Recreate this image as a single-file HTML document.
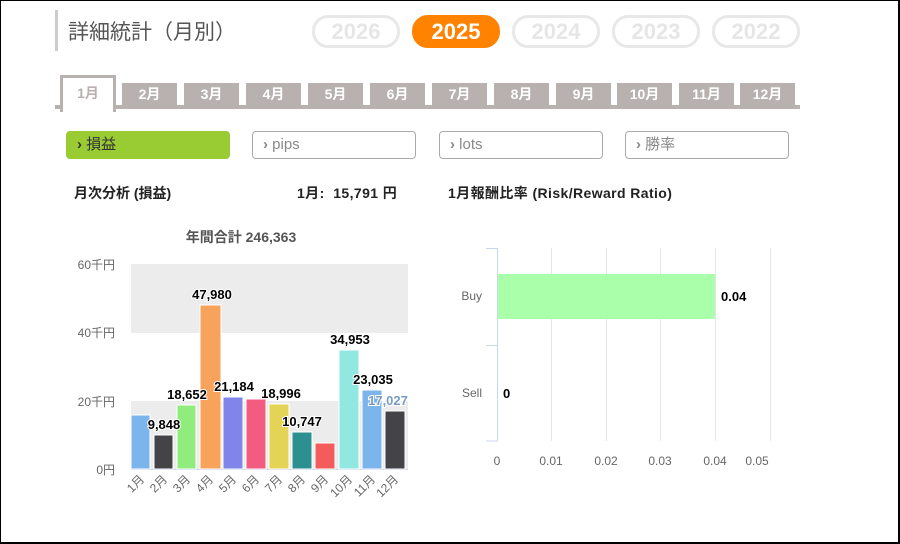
<!DOCTYPE html>
<html><head><meta charset="utf-8"><style>
body{margin:0;width:900px;height:544px;overflow:hidden;background:#fff;font-family:"Liberation Sans","Noto Sans CJK JP",sans-serif}
.frame{position:absolute;left:0;top:0;width:897px;height:541px;border:1px solid #000;border-right:2px solid #000;border-bottom:2px solid #000}
.a{position:absolute}
.yr{position:absolute;top:15px;width:82px;height:27px;border:3px solid #e8e8e8;border-radius:16px;color:#e6e6e6;font-weight:bold;font-size:22px;text-align:center;line-height:27px}
.tab{position:absolute;top:83px;width:55px;height:22px;background:#b9b0b0;color:#fff;font-weight:bold;font-size:14px;text-align:center;line-height:22px}
.btn{position:absolute;top:131px;border:1px solid #aaa;border-radius:4px;color:#888;font-size:15px;line-height:26px;box-sizing:border-box;width:164px;height:28px;padding-left:10px}
</style></head><body>
<div class="frame"></div>
<div class="a" style="left:55px;top:10px;width:3px;height:41px;background:#ccc"></div>
<div class="a" style="left:68px;top:16px;font-size:21px;color:#555">詳細統計（月別）</div>
<div class="yr" style="left:312px">2026</div>
<div class="yr" style="left:412px;background:#ff8200;border-color:#ff8200;color:#fff">2025</div>
<div class="yr" style="left:512px">2024</div>
<div class="yr" style="left:612px">2023</div>
<div class="yr" style="left:712px">2022</div>
<div class="a" style="left:55px;top:105px;width:745px;height:4px;background:#b9b0b0"></div>
<div class="a" style="left:60px;top:75px;width:50px;height:34px;background:#fff;border:3px solid #b9b0b0;border-bottom:none;color:#b9b0b0;font-weight:bold;font-size:14px;text-align:center;line-height:30px">1月</div>
<div class="tab" style="left:122px">2月</div><div class="tab" style="left:184px">3月</div><div class="tab" style="left:246px">4月</div><div class="tab" style="left:308px">5月</div><div class="tab" style="left:370px">6月</div><div class="tab" style="left:432px">7月</div><div class="tab" style="left:494px">8月</div><div class="tab" style="left:556px">9月</div><div class="tab" style="left:617px">10月</div><div class="tab" style="left:679px">11月</div><div class="tab" style="left:740px">12月</div>
<div class="btn" style="left:66px;background:#99cc33;border-color:#99cc33;color:#333"><b>›</b> 損益</div>
<div class="btn" style="left:252px"><b>›</b> pips</div>
<div class="btn" style="left:439px"><b>›</b> lots</div>
<div class="btn" style="left:625px"><b>›</b> 勝率</div>
<div class="a" style="left:74px;top:183px;font-size:14px;font-weight:bold;color:#222">月次分析 (損益)</div>
<div class="a" style="left:297px;top:183px;font-size:14px;font-weight:bold;color:#222;letter-spacing:0.4px">1月:&nbsp; 15,791 円</div>
<div class="a" style="left:448px;top:183px;font-size:14px;font-weight:bold;color:#222;letter-spacing:0.4px">1月報酬比率 (Risk/Reward Ratio)</div>
<svg class="a" style="left:0;top:0" width="900" height="544" font-family="Liberation Sans, Noto Sans CJK JP, sans-serif">
<text x="241" y="242" text-anchor="middle" font-size="14" font-weight="bold" fill="#555">年間合計 246,363</text>
<rect x="131" y="264" width="277" height="69" fill="#ececec"/>
<rect x="131" y="401" width="277" height="68" fill="#ececec"/>
<g font-size="12" fill="#666" text-anchor="end">
<text x="115" y="269">60千円</text><text x="115" y="337">40千円</text><text x="115" y="406">20千円</text><text x="115" y="474">0円</text></g>
<line x1="131" y1="469.5" x2="408" y2="469.5" stroke="#ccd6eb"/>
<g stroke="#fff" stroke-width="1">
<rect x="131" y="415" width="19" height="54" fill="#7cb5ec"/>
<rect x="154" y="435" width="19" height="34" fill="#434348"/>
<rect x="177" y="405" width="19" height="64" fill="#90ed7d"/>
<rect x="200" y="305" width="21" height="164" fill="#f7a35c"/>
<rect x="223" y="397" width="20" height="72" fill="#8085e9"/>
<rect x="246" y="399" width="20" height="70" fill="#f15c80"/>
<rect x="269" y="404" width="20" height="65" fill="#e4d354"/>
<rect x="292" y="432" width="20" height="37" fill="#2b908f"/>
<rect x="315" y="443" width="20" height="26" fill="#f45b5b"/>
<rect x="339" y="350" width="20" height="119" fill="#91e8e1"/>
<rect x="362" y="390" width="20" height="79" fill="#7cb5ec"/>
<rect x="385" y="411" width="20" height="58" fill="#434348"/>
</g>
<g font-size="13" font-weight="bold" fill="#000" text-anchor="middle" stroke="#fff" stroke-width="2" paint-order="stroke">
<text x="164" y="429">9,848</text><text x="187" y="399">18,652</text><text x="212" y="299">47,980</text><text x="234" y="391">21,184</text><text x="281" y="398">18,996</text><text x="302" y="426">10,747</text><text x="350" y="344">34,953</text><text x="373" y="384">23,035</text>
<text x="388" y="405" fill="#7a9cc0">17,027</text></g>
<g font-size="12" fill="#666" text-anchor="end">
<text transform="translate(145,480) rotate(-45)">1月</text><text transform="translate(168,480) rotate(-45)">2月</text><text transform="translate(191,480) rotate(-45)">3月</text><text transform="translate(214,480) rotate(-45)">4月</text><text transform="translate(237,480) rotate(-45)">5月</text><text transform="translate(260,480) rotate(-45)">6月</text><text transform="translate(283,480) rotate(-45)">7月</text><text transform="translate(306,480) rotate(-45)">8月</text><text transform="translate(329,480) rotate(-45)">9月</text><text transform="translate(353,480) rotate(-45)">10月</text><text transform="translate(376,480) rotate(-45)">11月</text><text transform="translate(399,480) rotate(-45)">12月</text></g>
<g stroke="#e6e6e6"><line x1="551.5" y1="248" x2="551.5" y2="441"/><line x1="606.5" y1="248" x2="606.5" y2="441"/><line x1="660.5" y1="248" x2="660.5" y2="441"/><line x1="715.5" y1="248" x2="715.5" y2="441"/><line x1="770.5" y1="248" x2="770.5" y2="441"/></g>
<path d="M486 248.5H497.5V441H486M486 345.5H497" stroke="#ccd6eb" fill="none"/>
<rect x="498" y="274" width="217" height="45" fill="#aaffaa"/>
<g font-size="12" fill="#666"><text x="482" y="300" text-anchor="end">Buy</text><text x="482" y="397" text-anchor="end">Sell</text>
<g text-anchor="middle"><text x="497" y="465">0</text><text x="551" y="465">0.01</text><text x="606" y="465">0.02</text><text x="660" y="465">0.03</text><text x="715" y="465">0.04</text><text x="757" y="465">0.05</text></g></g>
<g font-size="13" font-weight="bold" fill="#000"><text x="721" y="301">0.04</text><text x="503" y="398">0</text></g>
</svg>
</body></html>
